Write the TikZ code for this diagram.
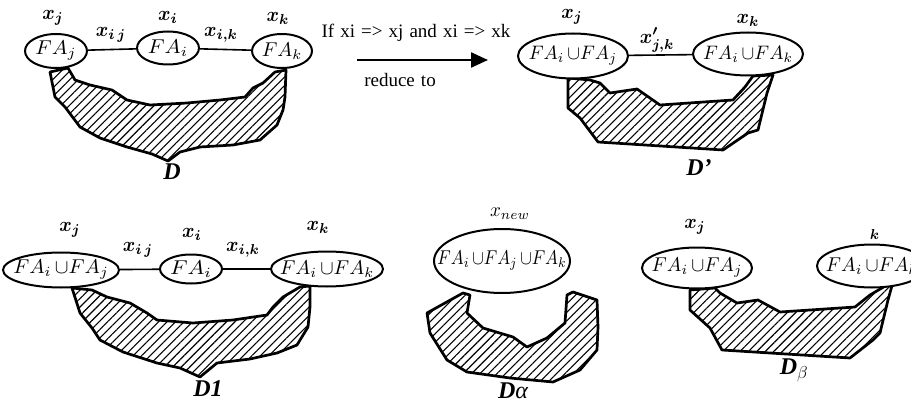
\documentclass[tikz,border=0pt]{standalone}
\usepackage{graphicx}
\usepackage{fontspec}
\setmainfont{Liberation Serif}
\usetikzlibrary{shapes.geometric,patterns.meta,arrows.meta}
\newcommand\wsp{\spaceskip 0.32em\relax}
\newcommand\SB[3]{\scalebox{#1}[#2]{#3}}
\newcommand\cupp{\,{\cup}}
\tikzset{
  el/.style={draw, ellipse, line width=2pt, fill=white, inner sep=0pt},
  conn/.style={line width=1.6pt},
  lab/.style={inner sep=0pt},
  dlab/.style={inner sep=0pt, font=\fontsize{24}{24}\selectfont\bfseries\itshape},
  txt/.style={inner sep=0pt, font={\fontsize{19}{19}\selectfont\wsp}},
  hatch/.style={draw, line width=2.7pt, line join=round, pattern={Lines[angle=45,distance=6pt,line width=1.1pt]}},
}
\newcommand\LB[1]{\SB{1.9}{2.05}{\boldmath$#1$}}
\begin{document}
\begin{tikzpicture}[x=1pt,y=-1pt]
\useasboundingbox (0,0) rectangle (911,404);
% ---------- top left ----------
\draw[hatch] (50,72)--(55,97)--(65,107)--(80,127)--(100,138)--(127,147)--(152,154)--(168,161)--(180,152)--(200,147)--(233,145)--(260,140)--(277,125)--(283,110)--(285,97)--(286,70)
  --(275,72)--(263,83)--(253,88)--(245,97)--(220,100)--(187,103)--(150,105)--(127,100)--(112,90)--(90,85)--(75,80)--(68,68)--cycle;
\node[el, minimum width=62pt, minimum height=34pt, label={[inner sep=0pt]center:{\SB{2.1}{2.0}{$FA_j$}}}] (a1) at (56,51) {};
\node[el, minimum width=62pt, minimum height=33pt, label={[inner sep=0pt]center:{\SB{2.15}{2.0}{$FA_i$}}}] (a2) at (168,48) {};
\node[el, minimum width=60pt, minimum height=34pt, label={[inner sep=0pt]center:{\SB{2.0}{2.0}{$FA_k$}}}] (a3) at (282,51) {};
\draw[conn] (a1) -- (a2);
\draw[conn] (a2) -- (a3);
\node[lab] (la1) at (53,18) {\LB{x_j}};
\node[lab] (la2) at (168,17) {\LB{x_i}};
\node[lab] (la3) at (278,18) {\LB{x_k}};
\node[lab] (la12) at (111,35) {\LB{x_{i\,j}}};
\node[lab] (la23) at (221,35) {\LB{x_{i,k}}};
\node[dlab] (da) at (172,172) {D};
% ---------- arrow ----------
\coordinate (ar1) at (357,60);
\coordinate (ar2) at (488,60);
\draw[line width=2.4pt, -{Triangle[length=17pt,width=15pt]}] (ar1) -- (ar2);
\node[txt] (t1) at (416,33) {If xi => xj and xi => xk};
\node[txt] (t2) at (400,80) {reduce to};
% ---------- top right ----------
\draw[hatch] (568,78)--(568,108)--(580,118)--(598,142)--(723,150)--(748,133)--(758,130)--(767,93)--(773,75)
  --(753,76)--(745,87)--(733,100)--(660,105)--(637,89)--(610,93)--(600,83)--(590,80)--cycle;
\node[el, minimum width=110pt, minimum height=45pt, label={[inner sep=0pt]center:{\SB{1.9}{1.95}{$FA_i\cupp FA_j$}}}] (b1) at (573,56) {};
\node[el, minimum width=110pt, minimum height=43pt, label={[inner sep=0pt]center:{\SB{1.9}{1.95}{$FA_i\cupp FA_k$}}}] (b2) at (748,54) {};
\draw[conn] (b1) -- (b2);
\node[lab] (lb1) at (572,17) {\LB{x_j}};
\node[lab] (lb2) at (748,20) {\LB{x_k}};
\node[lab] (lb12) at (657,40) {\LB{x'_{j,k}}};
\node[dlab] (db) at (699,168) {D'};
% ---------- bottom left ----------
\draw[hatch] (72,288)--(80,313)--(92,328)--(100,340)--(123,352)--(157,363)--(180,368)--(200,377)--(217,363)--(250,359)--(277,353)--(297,345)--(308,327)--(310,307)--(310,286)
  --(300,287)--(283,297)--(273,307)--(267,315)--(233,320)--(193,323)--(157,320)--(147,313)--(130,303)--(107,297)--(92,290)--cycle;
\node[el, minimum width=116pt, minimum height=35pt, label={[inner sep=0pt]center:{\SB{2.05}{2.0}{$FA_i\cupp FA_j$}}}] (c1) at (61,270) {};
\node[el, minimum width=62pt, minimum height=29pt, label={[inner sep=0pt]center:{\SB{2.25}{2.0}{$FA_i$}}}] (c2) at (191,269) {};
\node[el, minimum width=112pt, minimum height=35pt, label={[inner sep=0pt]center:{\SB{2.0}{2.0}{$FA_i\cupp FA_k$}}}] (c3) at (327,269) {};
\draw[conn] (c1) -- (c2);
\draw[conn] (c2) -- (c3);
\node[lab] (lc1) at (70,230) {\LB{x_j}};
\node[lab] (lc2) at (192,234) {\LB{x_i}};
\node[lab] (lc3) at (318,227) {\LB{x_k}};
\node[lab] (lc12) at (138,250) {\LB{x_{i\,j}}};
\node[lab] (lc23) at (243,250) {\LB{x_{i,k}}};
\node[dlab] (dc) at (208,389) {D1};
% ---------- bottom middle ----------
\draw[hatch] (463,293)--(427,313)--(430,333)--(447,360)--(467,372)--(510,378)--(553,382)--(580,370)--(597,350)--(598,327)--(597,300)--(573,292)
  --(567,295)--(565,323)--(547,338)--(527,347)--(513,337)--(483,328)--(467,313)--(470,295)--cycle;
\node[el, minimum width=136pt, minimum height=64pt, label={[inner sep=0pt]center:{\SB{1.72}{2.0}{$FA_i\cupp FA_j\cupp FA_k$}}}] (d1) at (502,261) {};
\node[lab] (ld1) at (510,214) {\SB{1.9}{2.0}{$x_{new}$}};
\node[dlab] (dd) at (513,391) {D\textmd{\textit{α}}};
% ---------- bottom right ----------
\draw[hatch] (690,290)--(690,310)--(710,328)--(722,350)--(850,358)--(873,340)--(880,333)--(888,300)--(893,282)
  --(887,285)--(870,295)--(855,307)--(780,312)--(758,300)--(737,303)--(720,293)--(715,288)--cycle;
\node[el, minimum width=110pt, minimum height=41pt, label={[inner sep=0pt]center:{\SB{1.95}{2.0}{$FA_i\cupp FA_j$}}}] (e1) at (697,268) {};
\node[el, minimum width=110pt, minimum height=43pt, label={[inner sep=0pt]center:{\SB{1.95}{2.0}{$FA_i\cupp FA_k$}}}] (e2) at (872,266) {};
\node[lab] (le1) at (695,227) {\LB{x_j}};
\node[lab] (le2) at (875,235) {\LB{_k}};
\node[dlab] (de) at (794,370) {D$_{\beta}$};
\end{tikzpicture}
\end{document}
